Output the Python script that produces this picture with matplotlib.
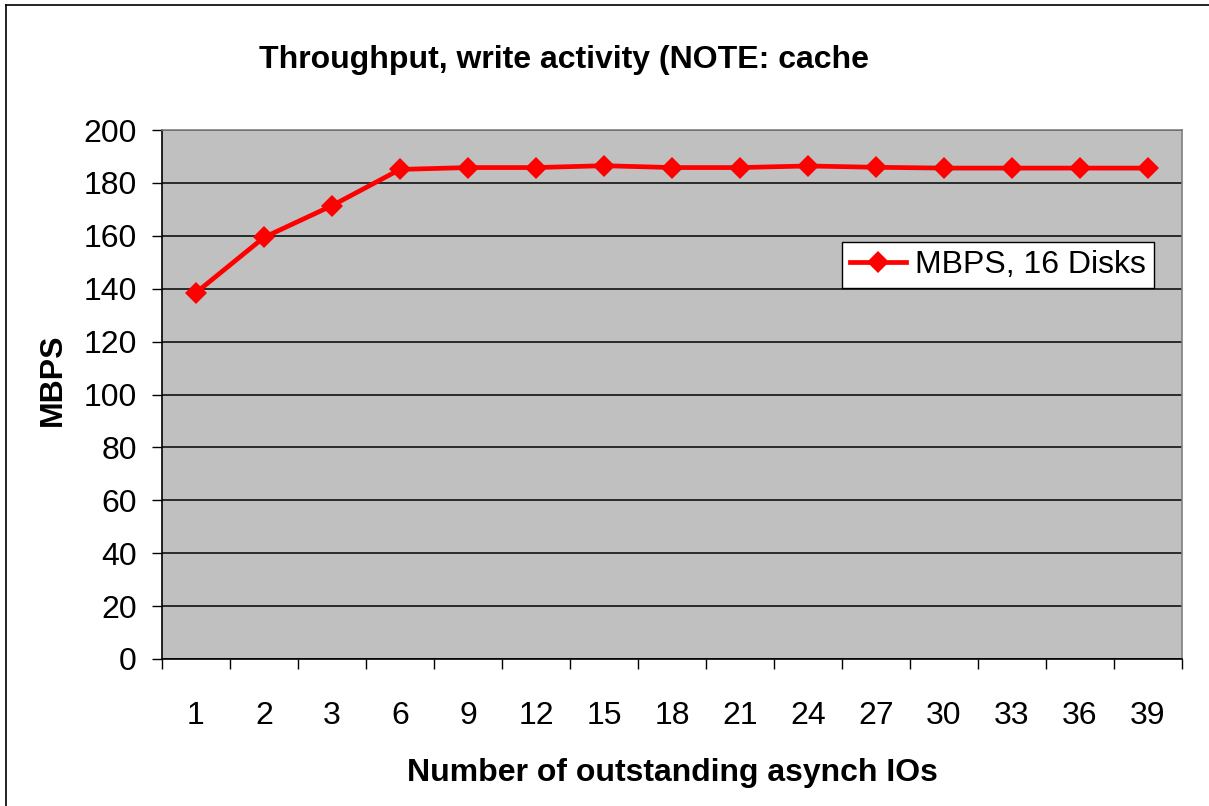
import matplotlib
matplotlib.use("Agg")
import matplotlib.pyplot as plt
from matplotlib.lines import Line2D
from matplotlib.ticker import FixedLocator, MultipleLocator

categories = ["1", "2", "3", "6", "9", "12", "15", "18", "21", "24", "27", "30", "33", "36", "39"]
mbps_16_disks = [138.5, 159.4, 171.4, 185.1, 185.8, 185.8, 186.5, 185.8, 185.8, 186.4, 185.9, 185.6, 185.6, 185.6, 185.6]
series_label = "MBPS, 16 Disks"
title = "Throughput, write activity (NOTE: cache"
xlabel = "Number of outstanding asynch IOs"
ylabel = "MBPS"

plt.rcParams['font.family'] = ['Liberation Sans', 'DejaVu Sans']
FS = 23

W, H = 1209, 806
fig = plt.figure(figsize=(W / 100, H / 100), dpi=100)
fig.patch.set_facecolor("white")

ax = fig.add_axes([162 / W, 1 - 659 / H, (1182 - 162) / W, (659 - 130) / H])
ax.set_facecolor("#C0C0C0")

x = list(range(len(categories)))
ax.plot(x, mbps_16_disks, color="#FF0000", lw=3.4, marker="D", ms=11.5,
        markeredgewidth=0, label=series_label, zorder=3, solid_joinstyle="miter")

ax.set_xlim(-0.5, len(categories) - 0.5)
ax.set_ylim(0, 200)
ax.yaxis.set_major_locator(MultipleLocator(20))
ax.grid(axis="y", color="#2a2a2a", lw=1.4, zorder=1)
ax.set_axisbelow(True)

ax.set_xticks(x)
ax.set_xticklabels(categories)
ax.xaxis.set_minor_locator(FixedLocator([i - 0.5 for i in range(len(categories) + 1)]))
ax.tick_params(axis="x", which="major", length=0, pad=30, labelsize=FS)
ax.tick_params(axis="x", which="minor", length=7, width=1, direction="out", color="black")
ax.tick_params(axis="y", which="major", length=7, width=1, direction="out", pad=11, labelsize=FS)

for s in ["top", "right"]:
    ax.spines[s].set_color("#808080")
    ax.spines[s].set_linewidth(1.2)
for s in ["left", "bottom"]:
    ax.spines[s].set_color("black")
    ax.spines[s].set_linewidth(1.2)

leg = ax.legend(loc="upper left", bbox_to_anchor=(842 / W, 1 - 242 / H),
                bbox_transform=fig.transFigure, fontsize=FS, frameon=True,
                fancybox=False, framealpha=1, edgecolor="black",
                handlelength=1.75, handletextpad=0.3, borderpad=0.25,
                borderaxespad=0)
leg.get_frame().set_linewidth(1.0)

fig.text(564 / W, 1 - 60 / H, title, ha="center", va="center",
         fontsize=FS, fontweight="bold")
fig.text(672 / W, 1 - 773 / H, xlabel, ha="center", va="center",
         fontsize=FS, fontweight="bold")
fig.text(53 / W, 1 - 380 / H, ylabel, ha="center", va="center",
         fontsize=FS, fontweight="bold", rotation=90)

fig.add_artist(Line2D([6 / W, 6 / W], [0, 1 - 5 / H], color="black", lw=1.2,
                      transform=fig.transFigure))
fig.add_artist(Line2D([6 / W, 1], [1 - 5 / H, 1 - 5 / H], color="black", lw=1.2,
                      transform=fig.transFigure))

fig.savefig("out.png", dpi=100)
